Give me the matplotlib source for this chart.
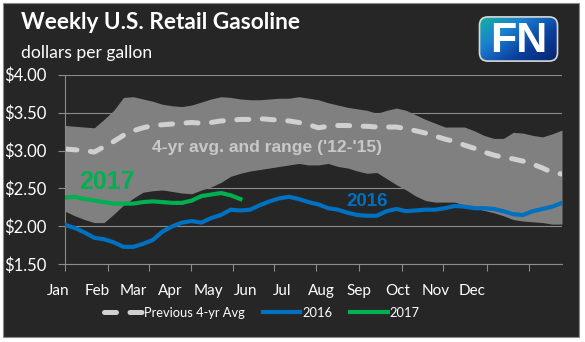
import matplotlib
matplotlib.use("Agg")
import matplotlib.pyplot as plt
from matplotlib.patches import Rectangle, FancyBboxPatch
from matplotlib.colors import LinearSegmentedColormap
import matplotlib.transforms as mtransforms
import numpy as np

# Chart text
TITLE = 'Weekly U.S. Retail Gasoline'
SUBTITLE = 'dollars per gallon'

# Months (label positions are in week units, as drawn in the original)
MONTHS = ['Jan', 'Feb', 'Mar', 'Apr', 'May', 'Jun',
          'Jul', 'Aug', 'Sep', 'Oct', 'Nov', 'Dec']
MONTH_LABEL_X = [-0.7, 3.3, 7.0, 10.8, 14.7, 18.5, 22.3, 26.3, 30.2, 34.1, 38.0, 41.8]
MONTH_TICK_X = [0, 4.38, 8.65, 12.9, 17.2, 21.4, 25.8, 30.2, 34.6, 38.8, 43.3, 47.6]

# Weekly prices ($/gal)
range_hi = [3.33, 3.32, 3.31, 3.30, 3.41, 3.53, 3.70, 3.71, 3.68, 3.65, 3.61, 3.59, 3.58,
            3.60, 3.64, 3.68, 3.71, 3.70, 3.68, 3.67, 3.67, 3.68, 3.69, 3.69, 3.71, 3.69,
            3.67, 3.63, 3.60, 3.57, 3.55, 3.53, 3.49, 3.53, 3.56, 3.53, 3.47, 3.41, 3.36,
            3.31, 3.31, 3.31, 3.26, 3.20, 3.16, 3.16, 3.24, 3.23, 3.20, 3.18, 3.22, 3.27]
range_lo = [2.20, 2.14, 2.09, 2.05, 2.05, 2.16, 2.28, 2.37, 2.45, 2.47, 2.48, 2.46, 2.44,
            2.43, 2.48, 2.52, 2.58, 2.66, 2.70, 2.73, 2.75, 2.77, 2.79, 2.81, 2.83, 2.81,
            2.81, 2.83, 2.79, 2.77, 2.73, 2.70, 2.71, 2.63, 2.55, 2.48, 2.40, 2.34, 2.32,
            2.32, 2.32, 2.28, 2.24, 2.21, 2.18, 2.14, 2.09, 2.07, 2.06, 2.05, 2.03, 2.03]
avg_4yr = [3.02, 3.01, 3.00, 2.98, 3.05, 3.12, 3.20, 3.26, 3.30, 3.33, 3.34, 3.35, 3.36,
           3.37, 3.36, 3.37, 3.39, 3.40, 3.41, 3.41, 3.42, 3.41, 3.40, 3.39, 3.37, 3.34,
           3.30, 3.32, 3.33, 3.33, 3.32, 3.32, 3.31, 3.31, 3.31, 3.29, 3.26, 3.23, 3.19,
           3.15, 3.12, 3.07, 3.03, 2.98, 2.94, 2.91, 2.89, 2.86, 2.82, 2.77, 2.71, 2.69]
y2016 = [2.02, 1.98, 1.92, 1.85, 1.83, 1.79, 1.73, 1.73, 1.77, 1.82, 1.93, 2.00, 2.05,
         2.07, 2.05, 2.11, 2.15, 2.22, 2.21, 2.22, 2.28, 2.33, 2.37, 2.39, 2.36, 2.32,
         2.29, 2.24, 2.22, 2.18, 2.15, 2.14, 2.14, 2.20, 2.23, 2.20, 2.21, 2.22, 2.22,
         2.24, 2.27, 2.26, 2.24, 2.24, 2.23, 2.20, 2.16, 2.15, 2.20, 2.23, 2.26, 2.31]
y2017 = [2.38, 2.39, 2.36, 2.34, 2.32, 2.30, 2.30, 2.30, 2.32, 2.33, 2.32, 2.31, 2.31,
         2.34, 2.40, 2.42, 2.44, 2.41, 2.36]

# Colours
BG = '#262626'
BAND = '#808080'
AVG = '#d0d0d0'
BLUE = '#0070c0'
GREEN = '#00b050'
GRID = '#8c8c8c'

plt.rcParams['font.family'] = ['Lato', 'DejaVu Sans']

fig = plt.figure(figsize=(5.85, 3.42), dpi=100)
fig.patch.set_facecolor('white')
fig.patches.append(Rectangle((3 / 585, 5 / 342), 576 / 585, 334 / 342,
                             transform=fig.transFigure, facecolor=BG,
                             edgecolor='#8a8a8a', linewidth=0.8, zorder=-5))

ax = fig.add_axes([65 / 585, 77.7 / 342, 497 / 585, 189.6 / 342])
ax.set_facecolor(BG)

weeks = np.arange(len(avg_4yr))
ax.fill_between(weeks, range_lo, range_hi, color=BAND, linewidth=0, zorder=1)
ax.plot(weeks, avg_4yr, color=AVG, lw=3.6, dashes=(2.4, 2.7),
        dash_capstyle='round', zorder=2, label='Previous 4-yr Avg')
ax.plot(np.arange(len(y2016)), y2016, color=BLUE, lw=3, zorder=3, label='2016',
        solid_joinstyle='round')
ax.plot(np.arange(len(y2017)), y2017, color=GREEN, lw=3, zorder=4, label='2017',
        solid_joinstyle='round')

ax.set_xlim(0, len(avg_4yr) - 1)
ax.set_ylim(1.5, 4.0)
ax.set_yticks([1.5, 2.0, 2.5, 3.0, 3.5, 4.0])
ax.set_yticklabels(['${:.2f}'.format(v) for v in ax.get_yticks()])
ax.yaxis.grid(True, color=GRID, lw=0.8)
ax.set_axisbelow(True)
ax.tick_params(axis='y', length=5, width=0.8, color=GRID, labelcolor='white',
               labelsize=12, pad=8.5)
ax.set_xticks(MONTH_TICK_X)
ax.set_xticklabels([])
ax.tick_params(axis='x', length=5, width=0.8, color=GRID)

for side in ['top', 'right']:
    ax.spines[side].set_visible(False)
for side in ['left', 'bottom']:
    ax.spines[side].set_color(GRID)
    ax.spines[side].set_linewidth(0.8)

# month labels
trans = mtransforms.blended_transform_factory(ax.transData, ax.transAxes)
for m, x in zip(MONTHS, MONTH_LABEL_X):
    ax.text(x, -0.105, m, transform=trans, ha='center', va='top',
            color='white', fontsize=11, clip_on=False)

# annotations
ax.text(8.9, 2.98, "4-yr avg. and range ('12-'15)", color='#c8c8c8',
        fontsize=12.6, fontweight='bold', family='Liberation Sans', va='baseline')
ax.text(1.45, 2.49, '2017', color=GREEN, fontsize=18, fontweight='bold',
        family='Liberation Sans', va='baseline')
ax.text(28.9, 2.275, '2016', color=BLUE, fontsize=13.5, fontweight='bold',
        family='Liberation Sans', va='baseline')

fig.text(21 / 585, 1 - 29 / 342, TITLE, color='white', fontsize=16.3,
         fontweight='bold', va='baseline')
fig.text(21 / 585, 1 - 58 / 342, SUBTITLE, color='white', fontsize=12.6, va='baseline')

leg = fig.legend(loc='center', bbox_to_anchor=(262 / 585, 29.3 / 342), ncol=3,
                 frameon=False, fontsize=9.3, handlelength=2.9, handletextpad=0.15,
                 columnspacing=1.4, labelcolor='white')

# FN logo
lax = fig.add_axes([477 / 585, 1 - 63 / 342, 83 / 585, 48 / 342])
lax.set_xlim(0, 1)
lax.set_ylim(0, 1)
lax.axis('off')
gx, gy = np.meshgrid(np.linspace(0, 1, 100), np.linspace(0, 1, 60))
grad = 0.55 * gx + 0.45 * gy
box = FancyBboxPatch((0.03, 0.04), 0.94, 0.92, boxstyle='round,pad=0,rounding_size=0.1',
                     facecolor='none', edgecolor='#d8d8d8', lw=1.2, zorder=3,
                     mutation_aspect=83 / 48)
lax.add_patch(box)
cmap = LinearSegmentedColormap.from_list('fn', ['#14b4a0', '#1a7fd0', '#0b3f9e', '#06266a'])
im = lax.imshow(grad, cmap=cmap, extent=(0.03, 0.97, 0.04, 0.96), aspect='auto',
                origin='upper', zorder=1)
im.set_clip_path(box)
lax.text(0.5, 0.46, 'FN', color='white', fontsize=31, fontweight='bold',
         family='Liberation Sans', ha='center', va='center', zorder=4)

fig.savefig('out.png', dpi=100, facecolor=fig.get_facecolor())
